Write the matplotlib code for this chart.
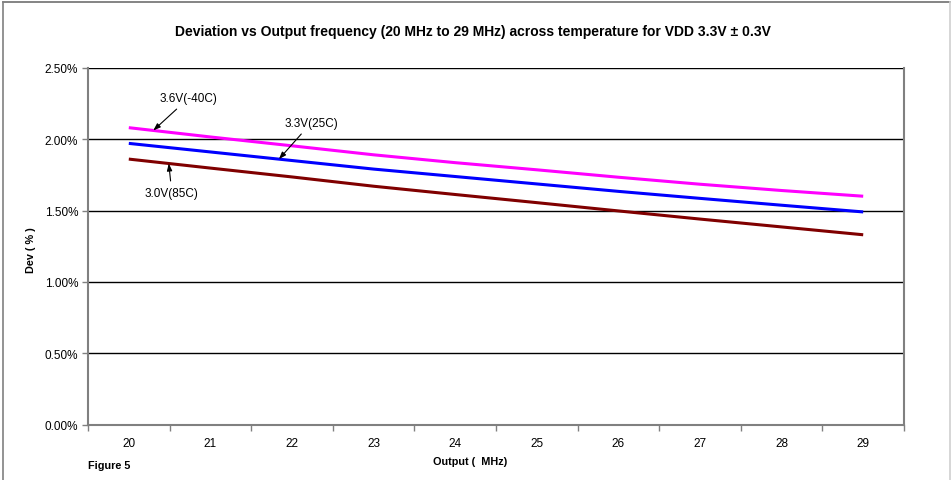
import matplotlib
matplotlib.use('Agg')
import matplotlib.pyplot as plt
import numpy as np
from matplotlib.lines import Line2D

plt.rcParams['font.family'] = ['Liberation Sans', 'DejaVu Sans']

# data
freq = ['20', '21', '22', '23', '24', '25', '26', '27', '28', '29']
dev_36v = [2.08, 2.015, 1.953, 1.89, 1.835, 1.785, 1.733, 1.684, 1.64, 1.60]
dev_33v = [1.97, 1.91, 1.85, 1.79, 1.738, 1.686, 1.634, 1.585, 1.537, 1.49]
dev_30v = [1.86, 1.797, 1.735, 1.67, 1.612, 1.555, 1.497, 1.44, 1.385, 1.33]
y_ticks = [0.0, 0.5, 1.0, 1.5, 2.0, 2.5]
y_labels = ['0.00%', '0.50%', '1.00%', '1.50%', '2.00%', '2.50%']

title = 'Deviation vs Output frequency (20 MHz to 29 MHz) across temperature for VDD 3.3V \u00b1 0.3V'

W, H = 951, 481
fig = plt.figure(figsize=(W / 100, H / 100), dpi=100)
ax = fig.add_axes([88 / W, 1 - 425.7 / H, 816 / W, 357 / H])

x = np.arange(len(freq))
ax.plot(x, dev_36v, color='#ff00ff', lw=2.2, solid_capstyle='butt', zorder=3)
ax.plot(x, dev_33v, color='#0000ff', lw=2.2, solid_capstyle='butt', zorder=3)
ax.plot(x, dev_30v, color='#800000', lw=2.2, solid_capstyle='butt', zorder=3)

ax.set_xlim(-0.5, len(freq) - 0.5)
ax.set_ylim(y_ticks[0], y_ticks[-1])

# category axis: ticks between categories, labels centred
ax.set_xticks(np.arange(-0.5, len(freq), 1.0))
ax.set_xticklabels([])
ax.set_xticks(x, minor=True)
ax.set_xticklabels(freq, minor=True)
ax.tick_params(axis='x', which='major', direction='out', length=4, width=1, color='#808080')
ax.tick_params(axis='x', which='minor', length=0, pad=9, labelsize=8.5)

ax.set_yticks(y_ticks)
ax.set_yticklabels(y_labels)
ax.tick_params(axis='y', direction='out', length=4, width=1, color='#808080', labelsize=8.5, pad=3)

ax.grid(axis='y', color='black', lw=1.0)
ax.set_axisbelow(True)
for side in ['left', 'bottom', 'right']:
    ax.spines[side].set_color('#808080')
    ax.spines[side].set_linewidth(1.5)
ax.spines['top'].set_visible(False)

# annotations
arrow = dict(arrowstyle='-|>,head_length=0.5,head_width=0.18', color='black', lw=0.8,
             shrinkA=2, shrinkB=0)
p = 0.3
ax.annotate('3.6V(-40C)', xy=(p, np.interp(p, x, dev_36v)), xytext=(35, 32),
            textcoords='offset pixels', ha='center', va='center', fontsize=8.5, arrowprops=arrow)
p = 1.84
ax.annotate('3.3V(25C)', xy=(p, np.interp(p, x, dev_33v)), xytext=(32, 36),
            textcoords='offset pixels', ha='center', va='center', fontsize=8.5, arrowprops=arrow)
p = 0.49
ax.annotate('3.0V(85C)', xy=(p, np.interp(p, x, dev_30v)), xytext=(3, -29),
            textcoords='offset pixels', ha='center', va='center', fontsize=8.5, arrowprops=arrow)

fig.text(473 / W, 1 - 32 / H, title, ha='center', va='center', fontsize=10, fontweight='bold')
fig.text(31 / W, 1 - 250 / H, 'Dev ( % )', ha='center', va='center', rotation=90,
         fontsize=7.8, fontweight='bold')
fig.text(470 / W, 1 - 462 / H, 'Output (  MHz)', ha='center', va='center', fontsize=7.8,
         fontweight='bold')
fig.text(88 / W, 1 - 466 / H, 'Figure 5', ha='left', va='center', fontsize=7.8, fontweight='bold')

# chart frame
fig.add_artist(Line2D([3 / W, 950 / W], [1 - 3 / H, 1 - 3 / H], color='#707070', lw=1.2))
fig.add_artist(Line2D([3 / W, 3 / W], [0, 1 - 3 / H], color='#808080', lw=1.2))
fig.add_artist(Line2D([950 / W, 950 / W], [0, 1 - 3 / H], color='#d0d0d0', lw=1.2))

fig.savefig('out.png', dpi=100)
plt.close(fig)
